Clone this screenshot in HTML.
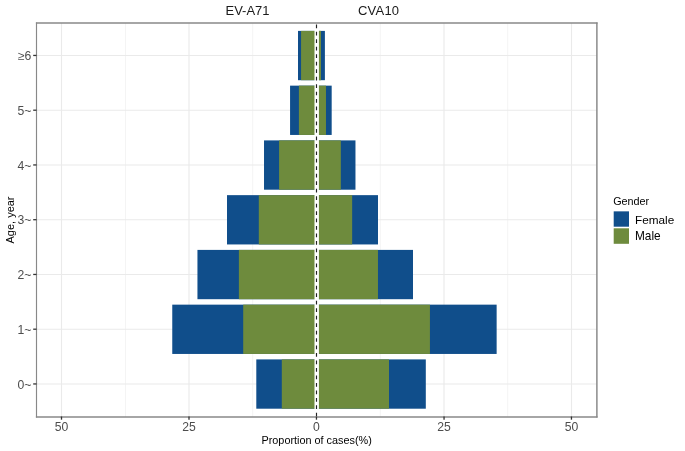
<!DOCTYPE html>
<html><head><meta charset="utf-8"><title>chart</title>
<style>html,body{margin:0;padding:0;background:#fff;width:685px;height:451px;overflow:hidden;font-family:"Liberation Sans",sans-serif}</style>
</head><body>
<svg width="685" height="451" viewBox="0 0 685 451" style="position:absolute;left:0;top:0">
<rect x="0" y="0" width="685" height="451" fill="#fff"/>
<line x1="125.5" y1="23.0" x2="125.5" y2="417.0" stroke="#EBEBEB" stroke-width="0.55"/>
<line x1="252.65" y1="23.0" x2="252.65" y2="417.0" stroke="#EBEBEB" stroke-width="0.55"/>
<line x1="380.3" y1="23.0" x2="380.3" y2="417.0" stroke="#EBEBEB" stroke-width="0.55"/>
<line x1="507.65" y1="23.0" x2="507.65" y2="417.0" stroke="#EBEBEB" stroke-width="0.55"/>
<line x1="61.5" y1="23.0" x2="61.5" y2="417.0" stroke="#EAEAEA" stroke-width="1.1"/>
<line x1="189.0" y1="23.0" x2="189.0" y2="417.0" stroke="#EAEAEA" stroke-width="1.1"/>
<line x1="444.0" y1="23.0" x2="444.0" y2="417.0" stroke="#EAEAEA" stroke-width="1.1"/>
<line x1="571.5" y1="23.0" x2="571.5" y2="417.0" stroke="#EAEAEA" stroke-width="1.1"/>
<line x1="36.5" y1="55.55" x2="597.0" y2="55.55" stroke="#EAEAEA" stroke-width="1.1"/>
<line x1="36.5" y1="110.30" x2="597.0" y2="110.30" stroke="#EAEAEA" stroke-width="1.1"/>
<line x1="36.5" y1="165.05" x2="597.0" y2="165.05" stroke="#EAEAEA" stroke-width="1.1"/>
<line x1="36.5" y1="219.80" x2="597.0" y2="219.80" stroke="#EAEAEA" stroke-width="1.1"/>
<line x1="36.5" y1="274.55" x2="597.0" y2="274.55" stroke="#EAEAEA" stroke-width="1.1"/>
<line x1="36.5" y1="329.30" x2="597.0" y2="329.30" stroke="#EAEAEA" stroke-width="1.1"/>
<line x1="36.5" y1="384.05" x2="597.0" y2="384.05" stroke="#EAEAEA" stroke-width="1.1"/>
<rect x="298.0" y="30.90" width="26.90" height="49.3" fill="#104E8B"/>
<rect x="301.05" y="30.90" width="19.95" height="49.3" fill="#6E8B3D"/>
<rect x="290.07" y="85.65" width="41.61" height="49.3" fill="#104E8B"/>
<rect x="298.9" y="85.65" width="27.08" height="49.3" fill="#6E8B3D"/>
<rect x="264.02" y="140.40" width="91.45" height="49.3" fill="#104E8B"/>
<rect x="279.09" y="140.40" width="61.75" height="49.3" fill="#6E8B3D"/>
<rect x="227.0" y="195.15" width="151.00" height="49.3" fill="#104E8B"/>
<rect x="258.8" y="195.15" width="93.36" height="49.3" fill="#6E8B3D"/>
<rect x="197.45" y="249.90" width="215.55" height="49.3" fill="#104E8B"/>
<rect x="238.87" y="249.90" width="139.09" height="49.3" fill="#6E8B3D"/>
<rect x="172.26" y="304.65" width="324.38" height="49.3" fill="#104E8B"/>
<rect x="243.2" y="304.65" width="186.73" height="49.3" fill="#6E8B3D"/>
<rect x="256.3" y="359.40" width="169.50" height="49.3" fill="#104E8B"/>
<rect x="281.79" y="359.40" width="107.21" height="49.3" fill="#6E8B3D"/>
<rect x="314.5" y="23.0" width="4.4" height="394.0" fill="#fff"/>
<line x1="316.5" y1="24.4" x2="316.5" y2="417.0" stroke="#222" stroke-width="1.15" stroke-dasharray="3.73 3.74"/>
<line x1="35.9" y1="23.0" x2="597.6" y2="23.0" stroke="#888" stroke-width="1.27"/>
<line x1="36.5" y1="22.4" x2="36.5" y2="417.6" stroke="#888" stroke-width="1.15"/>
<line x1="596.89" y1="22.4" x2="596.89" y2="417.6" stroke="#888" stroke-width="1.47"/>
<line x1="35.9" y1="416.93" x2="597.6" y2="416.93" stroke="#888" stroke-width="1.46"/>
<line x1="33.2" y1="55.45" x2="36.5" y2="55.45" stroke="#333" stroke-width="1.3"/>
<line x1="33.2" y1="110.20" x2="36.5" y2="110.20" stroke="#333" stroke-width="1.3"/>
<line x1="33.2" y1="164.95" x2="36.5" y2="164.95" stroke="#333" stroke-width="1.3"/>
<line x1="33.2" y1="219.70" x2="36.5" y2="219.70" stroke="#333" stroke-width="1.3"/>
<line x1="33.2" y1="274.45" x2="36.5" y2="274.45" stroke="#333" stroke-width="1.3"/>
<line x1="33.2" y1="329.20" x2="36.5" y2="329.20" stroke="#333" stroke-width="1.3"/>
<line x1="33.2" y1="383.95" x2="36.5" y2="383.95" stroke="#333" stroke-width="1.3"/>
<line x1="61.5" y1="416.5" x2="61.5" y2="419.7" stroke="#333" stroke-width="1.3"/>
<line x1="189.0" y1="416.5" x2="189.0" y2="419.7" stroke="#333" stroke-width="1.3"/>
<line x1="316.45" y1="416.5" x2="316.45" y2="419.7" stroke="#333" stroke-width="1.3"/>
<line x1="444.05" y1="416.5" x2="444.05" y2="419.7" stroke="#333" stroke-width="1.3"/>
<line x1="571.45" y1="416.5" x2="571.45" y2="419.7" stroke="#333" stroke-width="1.3"/>
<rect x="613.7" y="211.35" width="15.3" height="15.35" fill="#104E8B"/>
<rect x="613.7" y="228.3" width="15.3" height="15.5" fill="#6E8B3D"/>
<g font-family="Liberation Sans, sans-serif" style="filter:grayscale(1)">
<text x="247.55" y="14.85" font-size="13" fill="#1A1A1A" text-anchor="middle">EV-A71</text>
<text x="378.65" y="14.85" font-size="13" fill="#1A1A1A" text-anchor="middle" letter-spacing="0.2">CVA10</text>
<text x="61.6" y="431" font-size="12.2" fill="#4D4D4D" text-anchor="middle">50</text>
<text x="189.0" y="431" font-size="12.2" fill="#4D4D4D" text-anchor="middle">25</text>
<text x="316.45" y="431" font-size="12.2" fill="#4D4D4D" text-anchor="middle">0</text>
<text x="444.0" y="431" font-size="12.2" fill="#4D4D4D" text-anchor="middle">25</text>
<text x="571.55" y="431" font-size="12.2" fill="#4D4D4D" text-anchor="middle">50</text>
<text x="31.4" y="60.15" font-size="12.2" fill="#4D4D4D" text-anchor="end">≥6</text>
<text x="31.4" y="114.90" font-size="12.2" fill="#4D4D4D" text-anchor="end">5~</text>
<text x="31.4" y="169.65" font-size="12.2" fill="#4D4D4D" text-anchor="end">4~</text>
<text x="31.4" y="224.40" font-size="12.2" fill="#4D4D4D" text-anchor="end">3~</text>
<text x="31.4" y="279.15" font-size="12.2" fill="#4D4D4D" text-anchor="end">2~</text>
<text x="31.4" y="333.90" font-size="12.2" fill="#4D4D4D" text-anchor="end">1~</text>
<text x="31.4" y="388.65" font-size="12.2" fill="#4D4D4D" text-anchor="end">0~</text>
<text transform="translate(13.5,220) rotate(-90)" font-size="11" fill="#000" text-anchor="middle">Age, year</text>
<text x="316.65" y="443.8" font-size="10.85" fill="#000" text-anchor="middle">Proportion of cases(%)</text>
<text x="613.2" y="204.85" font-size="10.8" fill="#000">Gender</text>
<text x="635.0" y="223.6" font-size="11.75" fill="#000">Female</text>
<text x="635.0" y="240.4" font-size="11.85" fill="#000">Male</text>
</g>
</svg>
</body></html>
